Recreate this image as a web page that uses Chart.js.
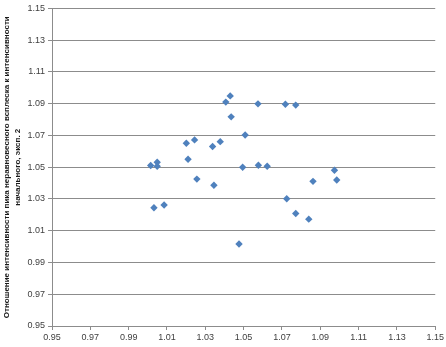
<!DOCTYPE html>
<html>
<head>
<meta charset="utf-8">
<script src="https://cdn.jsdelivr.net/npm/chart.js@4"></script>
<style>
  html, body { margin: 0; padding: 0; background: #fff; }
  #wrap { width: 446px; height: 347px; }
</style>
</head>
<body>
<div id="wrap"><canvas id="myChart" width="446" height="347"></canvas></div>
<script>
// значения точек
const xValues = [1.0015, 1.0049, 1.0049, 1.0032, 1.0085, 1.0201, 1.0244, 1.0210, 1.0256, 1.0338,
                 1.0378, 1.0345, 1.0407, 1.0430, 1.0435, 1.0508, 1.0495, 1.0575, 1.0577, 1.0623,
                 1.0718, 1.0772, 1.0974, 1.0862, 1.0986, 1.0725, 1.0772, 1.0840, 1.0476];
const yValues = [1.0511, 1.0531, 1.0506, 1.0245, 1.0262, 1.0651, 1.0672, 1.0550, 1.0425, 1.0630,
                 1.0661, 1.0386, 1.0910, 1.0949, 1.0817, 1.0703, 1.0500, 1.0899, 1.0512, 1.0506,
                 1.0896, 1.0891, 1.0481, 1.0411, 1.0419, 1.0301, 1.0208, 1.0173, 1.0016];
const axisMin = 0.95;
const axisMax = 1.15;
const axisStep = 0.02;
const yTitle = ['Отношение интенсивности пика неравновесного всплеска к интенсивности',
                'начального, эксп. 2'];

const points = xValues.map((x, i) => ({ x: x, y: yValues[i] }));

const tickFont = { family: '"Liberation Sans", Arial, sans-serif', size: 9 };

new Chart(document.getElementById('myChart').getContext('2d'), {
    type: 'scatter',
    data: {
        datasets: [{
            data: points,
            pointStyle: 'rectRot',
            pointRadius: 3.7,
            backgroundColor: '#4F81BD',
            borderColor: '#4F81BD',
            borderWidth: 0,
        }],
    },
    options: {
        responsive: false,
        animation: false,
        layout: { padding: { top: 4, right: 0, left: 2, bottom: 0 } },
        plugins: { legend: { display: false }, tooltip: { enabled: false } },
        scales: {
            x: {
                type: 'linear',
                min: axisMin,
                max: axisMax,
                ticks: {
                    stepSize: axisStep,
                    font: tickFont,
                    color: '#404040',
                    padding: 2,
                    maxRotation: 0,
                    callback: v => v.toFixed(2),
                },
                grid: { drawOnChartArea: false, drawTicks: true, tickLength: 4, color: '#8c8c8c' },
                border: { color: '#8c8c8c' },
                afterFit: s => { s.height = 21; },
            },
            y: {
                type: 'linear',
                min: axisMin,
                max: axisMax,
                ticks: {
                    stepSize: axisStep,
                    font: tickFont,
                    color: '#404040',
                    padding: 3,
                    callback: v => v.toFixed(2),
                },
                grid: { color: '#8c8c8c', tickLength: 4 },
                border: { color: '#8c8c8c' },
                title: {
                    display: true,
                    text: yTitle,
                    font: { family: '"Liberation Sans", Arial, sans-serif', size: 8, weight: 'bold', lineHeight: 1.3 },
                    color: '#1a1a1a',
                    padding: { top: 0, bottom: 1 },
                },
                afterFit: s => { s.width = 50; },
            },
        },
    },
});
</script>
</body>
</html>
